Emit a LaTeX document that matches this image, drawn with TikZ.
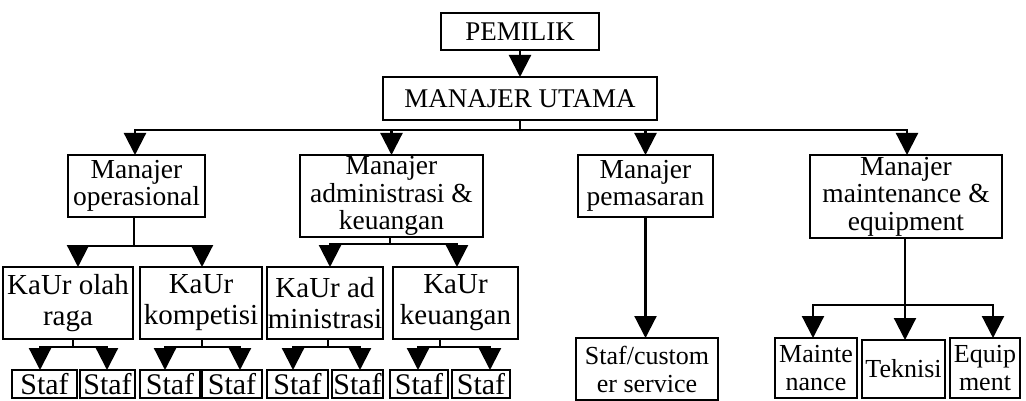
\documentclass[tikz,border=0pt]{standalone}
\usepackage{fontspec}
\setmainfont{Liberation Serif}
\usetikzlibrary{arrows.meta}
\begin{document}
\begin{tikzpicture}[x=1pt,y=-1pt,
  box/.style={draw, line width=2.2pt, inner sep=0pt, outer sep=0pt, align=center, anchor=center},
  topf/.style={font=\fontsize{27}{29}\selectfont},
  lvtwo/.style={font=\fontsize{27.5}{27.5}\selectfont},
  lvthree/.style={font=\fontsize{29}{31}\selectfont},
  staff/.style={box, minimum width=#1, minimum height=28pt, font=\fontsize{30}{30}\selectfont},
  lvfour/.style={font=\fontsize{26}{28}\selectfont},
  conn/.style={line width=2.2pt, line cap=rect},
  arr/.style={line width=2.2pt, -{Triangle[width=22pt,length=22pt]}}
]
\useasboundingbox (0,0) rectangle (1026,401);
% top
\node[box, topf, minimum width=158pt, minimum height=37pt] (pem) at (520,31.5) {PEMILIK};
\node[box, topf, minimum width=274pt, minimum height=43pt] (mu) at (520,98.5) {MANAJER UTAMA};
% level 2
\node[box, lvtwo, minimum width=137pt, minimum height=62pt] (op) at (136.5,186) {Manajer\\operasional};
\node[box, lvtwo, minimum width=183pt, minimum height=82pt] (adm) at (391.5,196) {Manajer\\administrasi \&\\keuangan};
\node[box, lvtwo, minimum width=135pt, minimum height=62pt] (pms) at (645.5,186) {Manajer\\pemasaran};
\node[box, lvtwo, minimum width=192pt, minimum height=83pt] (mnt) at (906,196.5) {Manajer\\maintenance \&\\equipment};
% level 3
\node[box, lvthree, minimum width=130pt, minimum height=72pt] (k1) at (68,303) {KaUr olah\\raga};
\node[box, lvthree, minimum width=122pt, minimum height=72pt] (k2) at (201,303) {KaUr\\kompetisi};
\node[box, lvthree, minimum width=116pt, minimum height=72pt] (k3) at (325,303) {KaUr ad\\ministrasi};
\node[box, lvthree, minimum width=125pt, minimum height=72pt] (k4) at (455.5,303) {KaUr\\keuangan};
% staf row
\node[staff=65pt] (s1) at (44.5,384) {Staf};
\node[staff=55pt] (s2) at (107.5,384) {Staf};
\node[staff=60pt] (s3) at (170,384) {Staf};
\node[staff=60pt] (s4) at (232,384) {Staf};
\node[staff=61pt] (s5) at (297.5,384) {Staf};
\node[staff=51pt] (s6) at (357.5,384) {Staf};
\node[staff=58pt] (s7) at (419,384) {Staf};
\node[staff=58pt] (s8) at (481,384) {Staf};
\node[box, lvfour, minimum width=142pt, minimum height=62pt] (cs) at (647,369) {Staf/custom\\er service};
\node[box, lvfour, minimum width=82pt, minimum height=60pt] (m1) at (816,368) {Mainte\\nance};
\node[box, lvfour, minimum width=83pt, minimum height=58pt] (m2) at (903.5,369) {Teknisi};
\node[box, lvfour, minimum width=70pt, minimum height=60pt] (m3) at (985,368) {Equip\\ment};
% connectors top
\draw[arr] (pem) -- (mu);
\coordinate (b1) at (520,130);
\coordinate (b1L) at (135,130);
\coordinate (b1R) at (907,130);
\draw[conn] (mu.south) -- (b1);
\draw[conn] (b1L) -- (b1R);
\draw[arr] (b1L) -- (b1L |- op.north);
\draw[arr] (adm.north |- b1) -- (adm.north);
\draw[arr] (pms.north |- b1) -- (pms.north);
\draw[arr] (b1R) -- (b1R |- mnt.north);
% operasional group
\coordinate (opL) at (78,246);
\coordinate (opR) at (202,246);
\coordinate (opM) at (134,246);
\draw[conn] (opM |- op.south) -- (opM);
\draw[conn] (opL) -- (opR);
\draw[arr] (opL) -- (opL |- k1.north);
\draw[arr] (opR) -- (opR |- k2.north);
% administrasi group
\coordinate (adL) at (330,244);
\coordinate (adR) at (457,244);
\coordinate (adM) at (390,244);
\draw[conn] (adM |- adm.south) -- (adM);
\draw[conn] (adL) -- (adR);
\draw[arr] (adL) -- (adL |- k3.north);
\draw[arr] (adR) -- (adR |- k4.north);
% staf groups
\coordinate (g1L) at (40,347); \coordinate (g1R) at (107,347); \coordinate (g1M) at (73,347);
\draw[conn] (g1M |- k1.south) -- (g1M);
\draw[conn] (g1L) -- (g1R);
\draw[arr] (g1L) -- (g1L |- s1.north);
\draw[arr] (g1R) -- (g1R |- s2.north);
\coordinate (g2L) at (165,347); \coordinate (g2R) at (240,347); \coordinate (g2M) at (202,347);
\draw[conn] (g2M |- k2.south) -- (g2M);
\draw[conn] (g2L) -- (g2R);
\draw[arr] (g2L) -- (g2L |- s3.north);
\draw[arr] (g2R) -- (g2R |- s4.north);
\coordinate (g3L) at (293,347); \coordinate (g3R) at (360,347); \coordinate (g3M) at (328,347);
\draw[conn] (g3M |- k3.south) -- (g3M);
\draw[conn] (g3L) -- (g3R);
\draw[arr] (g3L) -- (g3L |- s5.north);
\draw[arr] (g3R) -- (g3R |- s6.north);
\coordinate (g4L) at (418,347); \coordinate (g4R) at (490,347); \coordinate (g4M) at (440,347);
\draw[conn] (g4M |- k4.south) -- (g4M);
\draw[conn] (g4L) -- (g4R);
\draw[arr] (g4L) -- (g4L |- s7.north);
\draw[arr] (g4R) -- (g4R |- s8.north);
% pemasaran
\draw[arr] (pms.south) -- (pms.south |- cs.north);
% maintenance group
\coordinate (mL) at (813,305); \coordinate (mR) at (993,305); \coordinate (mM) at (905,305);
\draw[conn] (mM |- mnt.south) -- (mM);
\draw[conn] (mL) -- (mR);
\draw[arr] (mL) -- (mL |- m1.north);
\draw[arr] (mM) -- (mM |- m2.north);
\draw[arr] (mR) -- (mR |- m3.north);
\end{tikzpicture}
\end{document}
